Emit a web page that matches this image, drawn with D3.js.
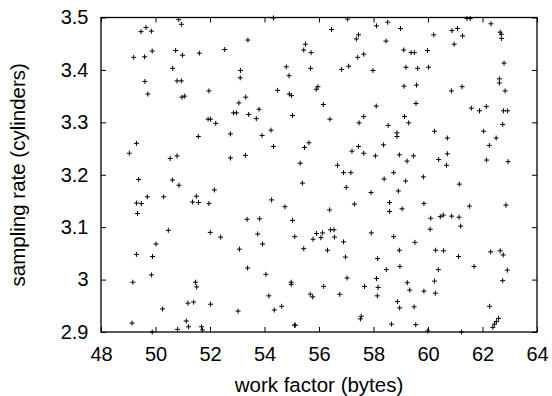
<!DOCTYPE html>
<html><head><meta charset="utf-8">
<script src="https://cdn.jsdelivr.net/npm/d3@7"></script>
<style>
body{margin:0;background:#fff}
text{font-family:"Liberation Sans",Arial,Helvetica,sans-serif;fill:#000}
</style>
</head><body>
<svg id="chart" width="552" height="396"></svg>
<script>
const xTicks = [48,50,52,54,56,58,60,62,64];
const xTickLabels = ["48","50","52","54","56","58","60","62","64"];
const yTicks = [2.9,3.0,3.1,3.2,3.3,3.4,3.5];
const yTickLabels = ["2.9","3","3.1","3.2","3.3","3.4","3.5"];
const xLabel = "work factor (bytes)";
const yLabel = "sampling rate (cylinders)";

const workFactor = [
49.47,49.65,49.85,49.20,49.60,49.88,50.85,50.95,50.74,50.99,50.63,49.61,50.79,50.95,49.72,50.97,51.07,49.30,49.04,50.54,50.79,
54.33,53.39,51.61,52.54,53.12,53.11,54.80,54.90,51.96,53.31,54.48,54.91,54.99,53.06,52.86,52.97,53.80,53.42,53.70,55.03,51.93,52.02,52.21,51.57,52.75,53.91,54.24,54.33,52.75,53.30,55.31,
57.05,56.46,58.11,58.52,58.99,57.45,57.37,58.46,55.50,55.44,55.71,57.42,57.64,59.11,59.38,59.50,55.69,56.83,57.09,57.98,59.19,59.62,55.96,55.90,59.12,59.58,56.16,58.10,59.56,56.40,57.64,57.47,58.54,59.14,59.29,58.86,58.86,55.63,55.47,57.45,57.21,57.64,58.37,58.07,58.95,59.23,59.47,56.68,56.90,57.17,58.74,
61.43,61.55,62.31,61.08,60.88,61.27,60.21,62.65,62.69,62.70,60.96,59.98,60.02,62.79,62.62,62.62,60.86,61.25,62.83,61.59,61.89,62.14,62.77,62.92,62.74,60.24,62.04,60.71,62.50,62.25,60.71,60.39,60.68,62.15,62.94,
49.38,50.62,50.86,49.70,50.30,49.30,49.48,49.34,50.47,50.02,49.30,49.89,49.85,49.17,50.26,49.14,49.88,50.81,
52.16,51.50,51.36,51.58,51.96,54.26,54.75,55.39,53.36,53.82,55.03,52.01,52.39,53.75,53.93,55.11,53.08,53.38,54.05,51.47,51.51,54.98,54.98,54.16,51.19,51.40,52.02,53.03,54.63,54.36,51.13,51.21,51.69,51.72,55.10,55.13,
58.39,59.18,57.00,57.91,58.91,57.30,58.59,58.59,59.05,56.39,55.91,56.13,56.42,56.55,55.78,56.07,56.57,56.90,57.92,58.74,59.52,55.44,56.31,58.95,56.97,58.15,58.97,58.47,57.03,58.11,59.24,56.17,57.67,58.17,59.33,55.68,55.77,56.76,58.14,58.88,58.96,59.49,57.55,57.52,58.66,59.55,
59.83,61.15,59.85,61.52,62.86,60.10,60.45,60.56,60.87,61.14,61.20,60.08,60.28,60.57,61.12,62.30,62.65,62.76,61.69,60.38,62.91,60.24,62.74,59.85,60.27,62.26,62.59,62.51,62.44,62.38,59.99,61.23
];
const samplingRate = [
3.473,3.481,3.474,3.424,3.425,3.436,3.496,3.487,3.437,3.428,3.403,3.378,3.379,3.379,3.354,3.348,3.350,3.260,3.241,3.231,3.236,
3.499,3.457,3.432,3.439,3.399,3.385,3.406,3.389,3.360,3.348,3.361,3.354,3.351,3.337,3.318,3.318,3.325,3.315,3.307,3.313,3.306,3.306,3.298,3.273,3.278,3.275,3.285,3.254,3.232,3.237,3.222,
3.497,3.477,3.484,3.491,3.479,3.467,3.459,3.455,3.449,3.438,3.433,3.424,3.430,3.438,3.433,3.433,3.403,3.401,3.407,3.399,3.405,3.403,3.368,3.363,3.369,3.371,3.334,3.331,3.336,3.306,3.311,3.299,3.294,3.311,3.299,3.280,3.273,3.261,3.252,3.254,3.245,3.241,3.257,3.236,3.238,3.226,3.236,3.218,3.204,3.204,3.204,
3.498,3.498,3.488,3.479,3.475,3.465,3.467,3.472,3.468,3.460,3.449,3.437,3.405,3.413,3.383,3.375,3.360,3.368,3.360,3.327,3.322,3.330,3.322,3.322,3.296,3.283,3.283,3.270,3.270,3.256,3.240,3.229,3.218,3.228,3.225,
3.191,3.190,3.180,3.158,3.158,3.146,3.145,3.126,3.094,3.068,3.048,3.044,3.009,2.995,2.944,2.917,2.900,2.905,
3.171,3.159,3.148,3.147,3.145,3.152,3.139,3.184,3.115,3.116,3.113,3.090,3.081,3.087,3.068,3.082,3.058,3.022,3.010,2.995,2.986,2.995,2.991,2.969,2.955,2.957,2.953,2.940,2.949,2.942,2.921,2.910,2.910,2.904,2.913,2.913,
3.192,3.188,3.176,3.166,3.169,3.144,3.147,3.130,3.135,3.133,3.088,3.089,3.095,3.095,3.077,3.080,3.081,3.072,3.089,3.082,3.071,3.059,3.056,3.056,3.043,3.040,3.025,3.019,3.003,3.002,2.994,2.987,2.987,2.985,2.980,2.972,2.967,2.972,2.969,2.958,2.946,2.948,2.930,2.925,2.915,2.914,
3.196,3.182,3.145,3.140,3.142,3.117,3.120,3.123,3.121,3.119,3.102,3.096,3.056,3.055,3.044,3.053,3.055,3.047,3.025,3.019,3.018,2.997,2.998,2.978,2.974,2.949,2.926,2.920,2.915,2.909,2.902,2.900
];

const W = 552, H = 396;
const margin = {left: 101, right: 15, top: 17.5, bottom: 64};
const iw = W - margin.left - margin.right;
const ih = H - margin.top - margin.bottom;

const svg = d3.select("#chart");
const g = svg.append("g").attr("transform", `translate(${margin.left},${margin.top})`);

const x = d3.scaleLinear().domain([48, 64]).range([0, iw]);
const y = d3.scaleLinear().domain([2.9, 3.5]).range([ih, 0]);

const fontSize = 20;

// bottom axis
const xb = g.append("g").attr("transform", `translate(0,${ih})`)
  .call(d3.axisBottom(x).tickValues(xTicks).tickSize(-5).tickPadding(14.8)
    .tickFormat((d, i) => xTickLabels[i]));
// top axis (ticks only)
const xt = g.append("g")
  .call(d3.axisTop(x).tickValues(xTicks).tickSize(-5).tickFormat(""));
// left axis
const yl = g.append("g")
  .call(d3.axisLeft(y).tickValues(yTicks).tickSize(-5).tickPadding(12.5)
    .tickFormat((d, i) => yTickLabels[i]));
// right axis (ticks only)
const yr = g.append("g").attr("transform", `translate(${iw},0)`)
  .call(d3.axisRight(y).tickValues(yTicks).tickSize(-5).tickFormat(""));

[xb, xt, yl, yr].forEach(a => {
  a.select(".domain").remove();
  a.selectAll(".tick line").attr("stroke", "#000").attr("stroke-width", 1);
  a.selectAll("text").style("font-size", fontSize + "px")
    .style("font-family", '"Liberation Sans", Arial, sans-serif').attr("fill", "#000");
});

// frame
g.append("rect").attr("x", 0).attr("y", 0).attr("width", iw).attr("height", ih)
  .attr("fill", "none").attr("stroke", "#000").attr("stroke-width", 1.3);

// points
const pts = workFactor.map((d, i) => [d, samplingRate[i]]);
g.append("g").selectAll("path").data(pts).join("path")
  .attr("transform", d => `translate(${x(d[0])},${y(d[1])})`)
  .attr("d", "M-2.5,0H2.5M0,-2.5V2.5")
  .attr("stroke", "#000").attr("stroke-width", 1).attr("fill", "none");

// axis labels
svg.append("text").attr("x", margin.left + iw / 2).attr("y", 391.5)
  .attr("text-anchor", "middle").style("font-size", "20.5px").text(xLabel);
svg.append("text")
  .attr("transform", `translate(25,${margin.top + ih / 2}) rotate(-90)`)
  .attr("text-anchor", "middle").style("font-size", "20.5px").text(yLabel);
</script>
</body></html>
